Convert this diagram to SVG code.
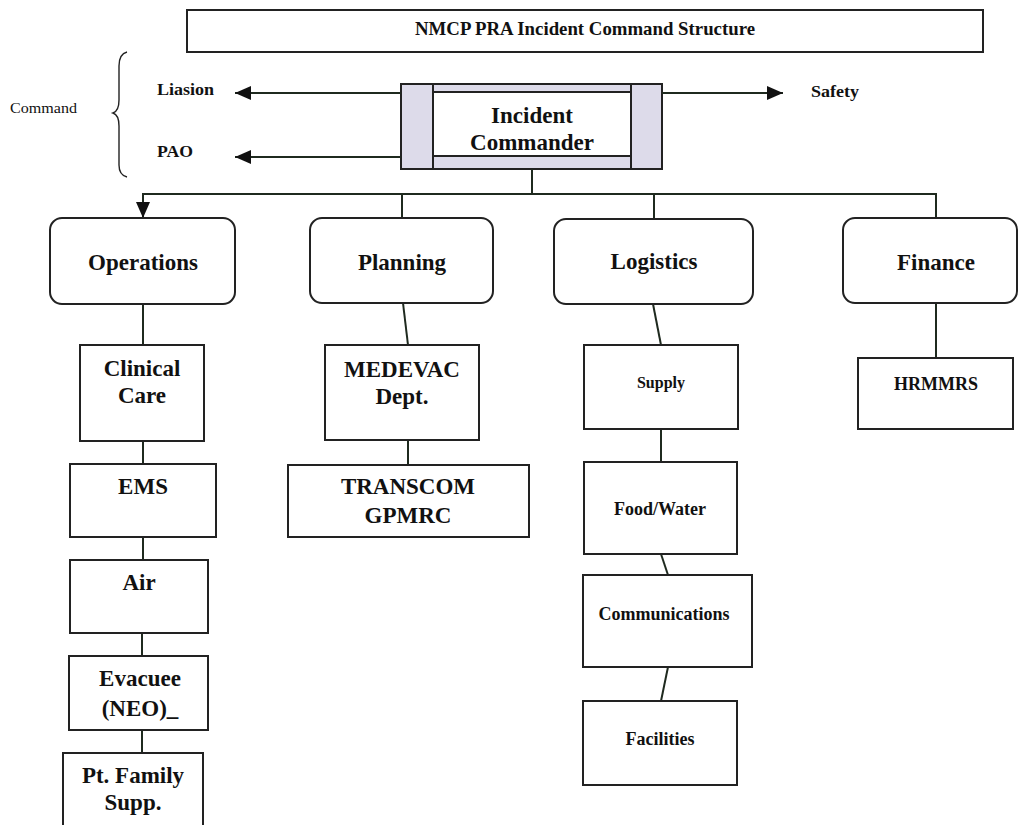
<svg xmlns="http://www.w3.org/2000/svg" width="1019" height="825" viewBox="0 0 1019 825">
<defs>
<style>
.box{fill:#fff;stroke:#222;stroke-width:2}
.rbox{fill:#fff;stroke:#222;stroke-width:2}
.con{fill:none;stroke:#1f2a1f;stroke-width:2}
.t{font-family:"Liberation Serif","Times New Roman",serif;font-weight:bold;fill:#111;text-anchor:middle}
.big{font-size:23px}
.mid{font-size:18px}
.lab{font-family:"Liberation Serif","Times New Roman",serif;font-weight:bold;fill:#111;font-size:17px}
</style>
<marker id="ah" viewBox="0 0 16 14" refX="16" refY="7" markerWidth="16" markerHeight="14" markerUnits="userSpaceOnUse" orient="auto">
<path d="M0,0 L16,7 L0,14 z" fill="#111"/>
</marker>
</defs>
<rect width="1019" height="825" fill="#fff"/>

<g id="title">
<rect class="box" x="187" y="10" width="796" height="42"/>
<text class="t" x="585" y="35" font-size="19" textLength="340" lengthAdjust="spacingAndGlyphs">NMCP PRA Incident Command Structure</text>
</g>

<g id="command">
<text x="10" y="113" font-family="'Liberation Serif','Times New Roman',serif" font-size="15" fill="#111" textLength="67" lengthAdjust="spacingAndGlyphs">Command</text>
<path d="M127,52 Q119,54 119,66 L119,100 Q119,111 113,113 Q119,115 119,126 L119,165 Q119,175 127,177" fill="none" stroke="#222" stroke-width="1.4"/>
</g>

<g id="liasion"><text class="lab" x="157" y="95" textLength="57" lengthAdjust="spacingAndGlyphs">Liasion</text></g>
<g id="pao"><text class="lab" x="157" y="157" textLength="36" lengthAdjust="spacingAndGlyphs">PAO</text></g>
<g id="safety"><text class="lab" x="811" y="97" textLength="48" lengthAdjust="spacingAndGlyphs">Safety</text></g>

<g id="incident-commander">
<rect x="401" y="84" width="261" height="85" fill="#dddbea" stroke="#222" stroke-width="2"/>
<rect x="433" y="92" width="198" height="64" fill="#fff" stroke="#222" stroke-width="2"/>
<line x1="433" y1="84" x2="433" y2="169" stroke="#222" stroke-width="2"/>
<line x1="631" y1="84" x2="631" y2="169" stroke="#222" stroke-width="2"/>
<text class="t big" x="532" y="123">Incident</text>
<text class="t big" x="532" y="150">Commander</text>
</g>

<g id="connectors">
<line class="con" x1="401" y1="93" x2="235" y2="93" marker-end="url(#ah)"/>
<line class="con" x1="401" y1="157" x2="235" y2="157" marker-end="url(#ah)"/>
<line class="con" x1="662" y1="93" x2="783" y2="93" marker-end="url(#ah)"/>
<path class="con" d="M532,169 V194"/>
<path class="con" d="M936,218 V194 H143 V218" marker-end="url(#ah)"/>
<path class="con" d="M402,194 V218"/>
<path class="con" d="M654,194 V219"/>
<path class="con" d="M143,304 V345"/>
<path class="con" d="M143,441 V464"/>
<path class="con" d="M143,537 V560"/>
<path class="con" d="M142,633 V656"/>
<path class="con" d="M142,730 V753"/>
<path class="con" d="M403,303 L408,345"/>
<path class="con" d="M408,440 V465"/>
<path class="con" d="M653,304 L661,345"/>
<path class="con" d="M661,429 V462"/>
<path class="con" d="M661,554 L668,575"/>
<path class="con" d="M668,667 L661,701"/>
<path class="con" d="M936,303 V358"/>
</g>

<g id="operations">
<rect class="rbox" x="50" y="218" width="185" height="86" rx="12"/>
<text class="t big" x="143" y="270">Operations</text>
</g>
<g id="planning">
<rect class="rbox" x="310" y="218" width="183" height="85" rx="12"/>
<text class="t big" x="402" y="270">Planning</text>
</g>
<g id="logistics">
<rect class="rbox" x="554" y="219" width="199" height="85" rx="12"/>
<text class="t big" x="654" y="269">Logistics</text>
</g>
<g id="finance">
<rect class="rbox" x="843" y="218" width="174" height="85" rx="12"/>
<text class="t big" x="936" y="270">Finance</text>
</g>

<g id="clinical-care">
<rect class="box" x="80" y="345" width="124" height="96"/>
<text class="t big" x="142" y="376">Clinical</text>
<text class="t big" x="142" y="403">Care</text>
</g>
<g id="ems">
<rect class="box" x="70" y="464" width="146" height="73"/>
<text class="t big" x="143" y="494">EMS</text>
</g>
<g id="air">
<rect class="box" x="70" y="560" width="138" height="73"/>
<text class="t big" x="139" y="590">Air</text>
</g>
<g id="evacuee">
<rect class="box" x="69" y="656" width="139" height="74"/>
<text class="t big" x="140" y="686">Evacuee</text>
<text class="t big" x="140" y="716">(NEO)_</text>
</g>
<g id="pt-family">
<rect class="box" x="63" y="753" width="140" height="74"/>
<text class="t big" x="133" y="783">Pt. Family</text>
<text class="t big" x="133" y="810">Supp.</text>
</g>

<g id="medevac">
<rect class="box" x="325" y="345" width="154" height="95"/>
<text class="t big" x="402" y="377">MEDEVAC</text>
<text class="t big" x="402" y="404">Dept.</text>
</g>
<g id="transcom">
<rect class="box" x="288" y="465" width="241" height="72"/>
<text class="t big" x="408" y="494">TRANSCOM</text>
<text class="t big" x="408" y="523">GPMRC</text>
</g>

<g id="supply">
<rect class="box" x="584" y="345" width="154" height="84"/>
<text class="t" font-size="16" x="661" y="388">Supply</text>
</g>
<g id="food-water">
<rect class="box" x="584" y="462" width="153" height="92"/>
<text class="t mid" x="660" y="515">Food/Water</text>
</g>
<g id="communications">
<rect class="box" x="583" y="575" width="169" height="92"/>
<text class="t mid" x="664" y="620">Communications</text>
</g>
<g id="facilities">
<rect class="box" x="583" y="701" width="154" height="84"/>
<text class="t mid" x="660" y="745">Facilities</text>
</g>
<g id="hrmmrs">
<rect class="box" x="858" y="358" width="155" height="71"/>
<text class="t mid" x="936" y="390">HRMMRS</text>
</g>
</svg>
